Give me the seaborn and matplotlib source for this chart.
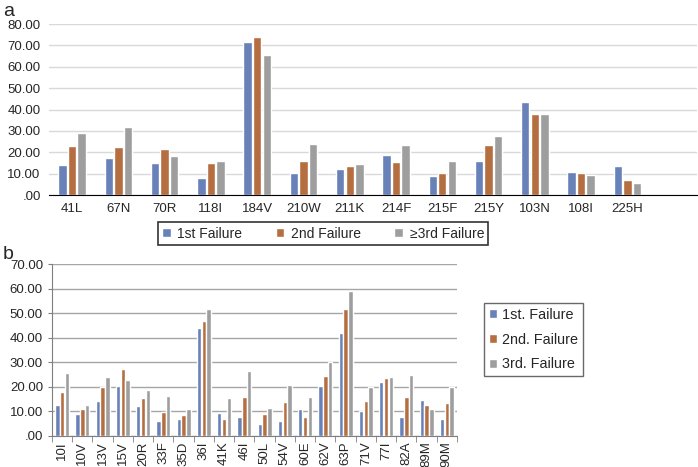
import numpy as np
import pandas as pd
import matplotlib
matplotlib.use("Agg")
import matplotlib.pyplot as plt
import seaborn as sns
from matplotlib.ticker import FuncFormatter, FixedLocator

# --- Panel a data ---
mut_a = ["41L", "67N", "70R", "118I", "184V", "210W", "211K", "214F",
         "215F", "215Y", "103N", "108I", "225H"]
first_a = [14.2, 17.3, 15.1, 7.8, 71.7, 10.1, 12.0, 18.9, 9.0, 15.8, 43.7, 10.8, 13.4]
second_a = [23.1, 22.6, 21.4, 14.8, 73.8, 15.9, 13.7, 15.6, 10.3, 23.5, 37.7, 10.1, 6.9]
third_a = [29.2, 31.7, 18.2, 15.8, 65.6, 23.9, 14.5, 23.5, 15.8, 27.7, 37.7, 9.5, 5.6]
series_a = ["1st Failure", "2nd Failure", "\u22653rd Failure"]

# --- Panel b data ---
mut_b = ["10I", "10V", "13V", "15V", "20R", "33F", "35D", "36I", "41K", "46I",
         "50L", "54V", "60E", "62V", "63P", "71V", "77I", "82A", "89M", "90M"]
first_b = [12.7, 9.1, 14.4, 20.4, 12.4, 6.3, 7.1, 44.2, 9.4, 7.9,
           5.0, 6.1, 10.9, 20.4, 41.9, 10.2, 22.0, 7.9, 14.7, 7.1]
second_b = [18.0, 10.9, 20.0, 27.3, 15.5, 9.9, 8.6, 46.7, 7.1, 15.8,
            9.0, 14.0, 7.6, 24.6, 51.6, 14.3, 23.8, 15.9, 12.5, 13.6]
third_b = [25.7, 12.7, 23.9, 22.9, 18.8, 16.2, 10.9, 51.7, 15.4, 26.5,
           11.4, 20.7, 15.9, 30.3, 59.2, 20.0, 23.9, 24.8, 10.9, 20.0]
series_b = ["1st. Failure", "2nd. Failure", "3rd. Failure"]

colors = ["#5b7cc6", "#c96a2c", "#9e9e9e"]

def long_form(muts, vals, names):
    rows = []
    for name, v in zip(names, vals):
        for m, x in zip(muts, v):
            rows.append({"Mutation": m, "Value": x, "Series": name})
    return pd.DataFrame(rows)

df_a = long_form(mut_a, [first_a, second_a, third_a], series_a)
df_b = long_form(mut_b, [first_b, second_b, third_b], series_b)

sns.set_style("white")
plt.rcParams["font.family"] = ["Liberation Sans", "DejaVu Sans"]

fmt = FuncFormatter(lambda v, p: ".00" if v == 0 else f"{v:.2f}")

fig = plt.figure(figsize=(6.98, 4.67), dpi=100)

# --- Panel a ---
ax1 = fig.add_axes([0.0702, 0.5824, 0.928, 0.3662])
sns.barplot(data=df_a, x="Mutation", y="Value", hue="Series", palette=colors,
            width=0.62, gap=0.12, ax=ax1, legend=True)
ax1.set_xlim(-0.5, 13.5)
ax1.set_ylim(0, 80)
ax1.yaxis.set_major_locator(FixedLocator(np.arange(0, 81, 10)))
ax1.yaxis.set_major_formatter(fmt)
ax1.grid(axis="y", color="#d9d9d9", linewidth=1)
ax1.set_axisbelow(True)
for s in ["left", "right", "top"]:
    ax1.spines[s].set_visible(False)
ax1.spines["bottom"].set_color("black")
ax1.tick_params(axis="both", length=0, labelsize=9.5, pad=6)
ax1.set_xlabel("")
ax1.set_ylabel("")
h, l = ax1.get_legend_handles_labels()
ax1.legend(h, l, ncol=3, loc="center", bbox_to_anchor=(0.463, 0.5),
           bbox_transform=fig.transFigure, frameon=True, fancybox=False,
           edgecolor="black", fontsize=10, handlelength=0.6, handleheight=0.6,
           handletextpad=0.5, columnspacing=2.4, borderpad=0.3)
ax1.get_legend().get_frame().set_linewidth(1.2)

# --- Panel b ---
ax2 = fig.add_axes([0.0745, 0.0664, 0.5802, 0.3676])
sns.barplot(data=df_b, x="Mutation", y="Value", hue="Series", palette=colors,
            width=0.72, gap=0.08, ax=ax2, legend=True)
ax2.set_xlim(-0.5, len(mut_b) - 0.5)
ax2.set_ylim(0, 70)
ax2.yaxis.set_major_locator(FixedLocator(np.arange(0, 71, 10)))
ax2.yaxis.set_major_formatter(fmt)
ax2.grid(axis="y", color="#a6a6a6", linewidth=1)
ax2.set_axisbelow(True)
for s in ["right", "top"]:
    ax2.spines[s].set_visible(False)
ax2.spines["left"].set_color("#7f7f7f")
ax2.spines["bottom"].set_color("#7f7f7f")
ax2.tick_params(axis="y", length=3, color="#7f7f7f", labelsize=9.5, left=True)
ax2.tick_params(axis="x", length=0, labelsize=9.5, rotation=90, pad=4)
ax2.xaxis.set_minor_locator(FixedLocator(np.arange(-0.5, len(mut_b), 1.0)))
ax2.tick_params(axis="x", which="minor", length=4, color="#7f7f7f", bottom=True)
ax2.set_xlabel("")
ax2.set_ylabel("")
h, l = ax2.get_legend_handles_labels()
ax2.legend(h, l, ncol=1, loc="center", bbox_to_anchor=(0.764, 0.273),
           bbox_transform=fig.transFigure, frameon=True, fancybox=False,
           edgecolor="#444444", fontsize=10.4, handlelength=0.6, handleheight=0.6,
           handletextpad=0.3, labelspacing=0.75, borderpad=0.35,
           borderaxespad=0.2)

fig.text(0.004, 0.975, "a", fontsize=14, va="center")
fig.text(0.004, 0.455, "b", fontsize=14, va="center")

fig.savefig("out.png", dpi=100)
